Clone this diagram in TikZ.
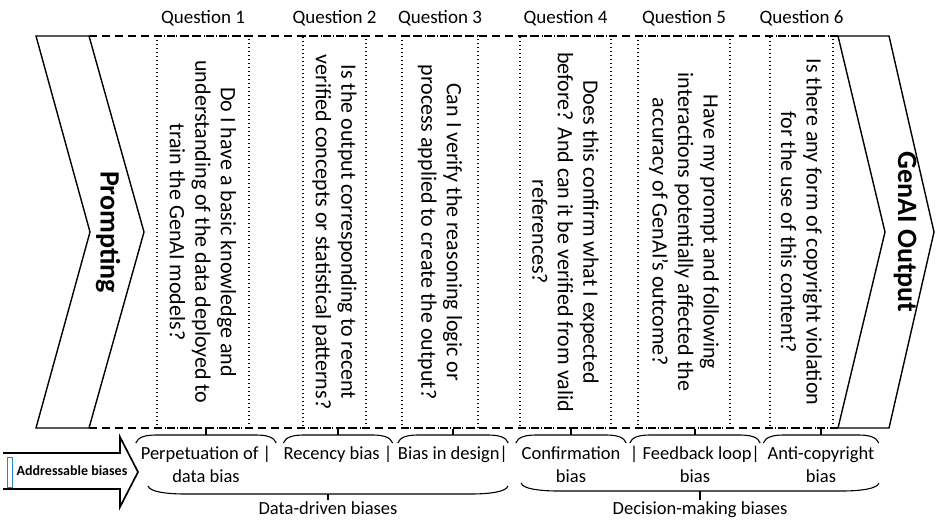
\documentclass[tikz,border=0pt]{standalone}
\usepackage{fontspec}
\setmainfont{Carlito}
\usetikzlibrary{positioning,calc}
\definecolor{selblue}{RGB}{32,138,200}
\tikzset{%
  dashframe/.style = {line width=1.8pt, dash pattern=on 8pt off 5pt},
  chev/.style = {line width=1.4pt},
  qbox/.style = {rectangle,draw,line width=1.1pt,dash pattern=on 1.1pt off 2.9pt,
        rotate=-90,minimum width=392pt,inner sep=0pt,align=center,
        font=\fontsize{22}{25.5}\selectfont},
  chevtext/.style = {rotate=-90,font=\bfseries\fontsize{28}{32}\selectfont},
  qhead/.style = {anchor=base,font=\fontsize{19}{22}\selectfont},
  bias/.style = {anchor=north,inner xsep=0pt,inner ysep=3pt,align=center,
        font=\fontsize{18.5}{23}\selectfont},
  group/.style = {anchor=north,inner sep=1pt,font=\fontsize{18.5}{23}\selectfont},
  capbrace/.style 2 args = {line width=1.1pt,to path={(\tikztostart)
        .. controls ($(\tikztostart)+(2,#2*0.75)$) and ($(\tikztostart)+(#1*0.5,#2)$)
        .. ($(\tikztostart)+(#1,#2)$) -- ($(\tikztotarget)+(-#1,#2)$)
        .. controls ($(\tikztotarget)+(-#1*0.5,#2)$) and ($(\tikztotarget)+(-2,#2*0.75)$)
        .. (\tikztotarget)}}
}

\begin{document}
\begin{tikzpicture}[x=1pt,y=-1pt]
\useasboundingbox (0,0) rectangle (936,520);

% input and output chevrons
\draw[chev] (36,36) -- (89,36) coordinate (pr-ne) -- (144,232) -- (89,428) coordinate (pr-se)
    -- (36,428) -- (90,232) -- cycle;
\draw[chev] (838,36) coordinate (out-nw) -- (889,36) -- (934,232) -- (889,428)
    -- (838,428) coordinate (out-sw) -- (885,232) -- cycle;
\node[chevtext] (prompt) at (108,232) {Prompting};
\node[chevtext] (output) at (905,232) {GenAI Output};
\draw[dashframe] (pr-ne) -- (out-nw);
\draw[dashframe] (pr-se) -- (out-sw);

% question columns
\node[qbox,minimum height=92pt] (q1) at (203,232)
    {Do I have a basic knowledge and\\understanding of the data deployed to\\train the GenAI models?};
\node[qbox,minimum height=63pt] (q2) at (334.5,232)
    {Is the output corresponding to recent\\verified concepts or statistical patterns?};
\node[qbox,minimum height=76pt] (q3) at (440,232)
    {Can I verify the reasoning logic or\\process applied to create the output?};
\node[qbox,minimum height=91pt] (q4) at (565.5,232)
    {Does this confirm what I expected\\before? And can it be verified from valid\\references?};
\node[qbox,minimum height=92pt] (q5) at (684,232)
    {Have my prompt and following\\interactions potentially affected the\\accuracy of GenAI’s outcome?};
\node[qbox,minimum height=63pt] (q6) at (801.5,232)
    {Is there any form of copyright violation\\for the use of this content?};

\coordinate (headline) at (0,23);
\foreach \i in {1,...,6}
    \node[qhead] (h\i) at (q\i.west |- headline) {Question \i};

% biases
\node[bias,minimum width=140pt] (b1) at (206,443) {Perpetuation of |\\data bias};
\node[bias,minimum width=105pt] (b2) at (338,443) {Recency bias |};
\node[bias,minimum width=105pt] (b3) at (453,443) {Bias in design|};
\node[bias,minimum width=110pt] (b4) at (571,443) {Confirmation\\bias};
\node[bias,minimum width=115pt] (b5) at (695,443) {| Feedback loop|\\bias};
\node[bias,minimum width=115pt] (b6) at (821,443) {Anti-copyright\\bias};

\foreach \i in {1,...,6}{
    \draw[capbrace={20}{-8}] (b\i.north west) to (b\i.north east);
    \draw[line width=1.1pt] ([yshift=8pt]b\i.north) -- (b\i.north |- q\i.east);
}

% bias groups
\coordinate (dd-w) at (148,486);
\coordinate (dd-e) at (508,486);
\coordinate (dm-w) at (521,483);
\coordinate (dm-e) at (879,483);
\node[group] (dd) at (328,500) {Data-driven biases};
\node[group] (dm) at (700,500) {Decision-making biases};
\draw[capbrace={38}{8}] (dd-w) to (dd-e);
\draw[capbrace={38}{8}] (dm-w) to (dm-e);
\draw[line width=1.1pt] ($(dd-w)!.5!(dd-e)+(0,8)$) -- (dd.north);
\draw[line width=1.1pt] ($(dm-w)!.5!(dm-e)+(0,8)$) -- (dm.north);

% addressable biases arrow
\draw[chev,line width=1.7pt] (3,453) -- (120,453) -- (120,437) -- (138,472)
    -- (120,507) -- (120,489) -- (3,489);
\draw[selblue,line width=1pt] (7,457) rectangle (12,487);
\node[font=\bfseries\fontsize{14}{16}\selectfont] (addr) at (72,471) {Addressable biases};
\end{tikzpicture}
\end{document}
